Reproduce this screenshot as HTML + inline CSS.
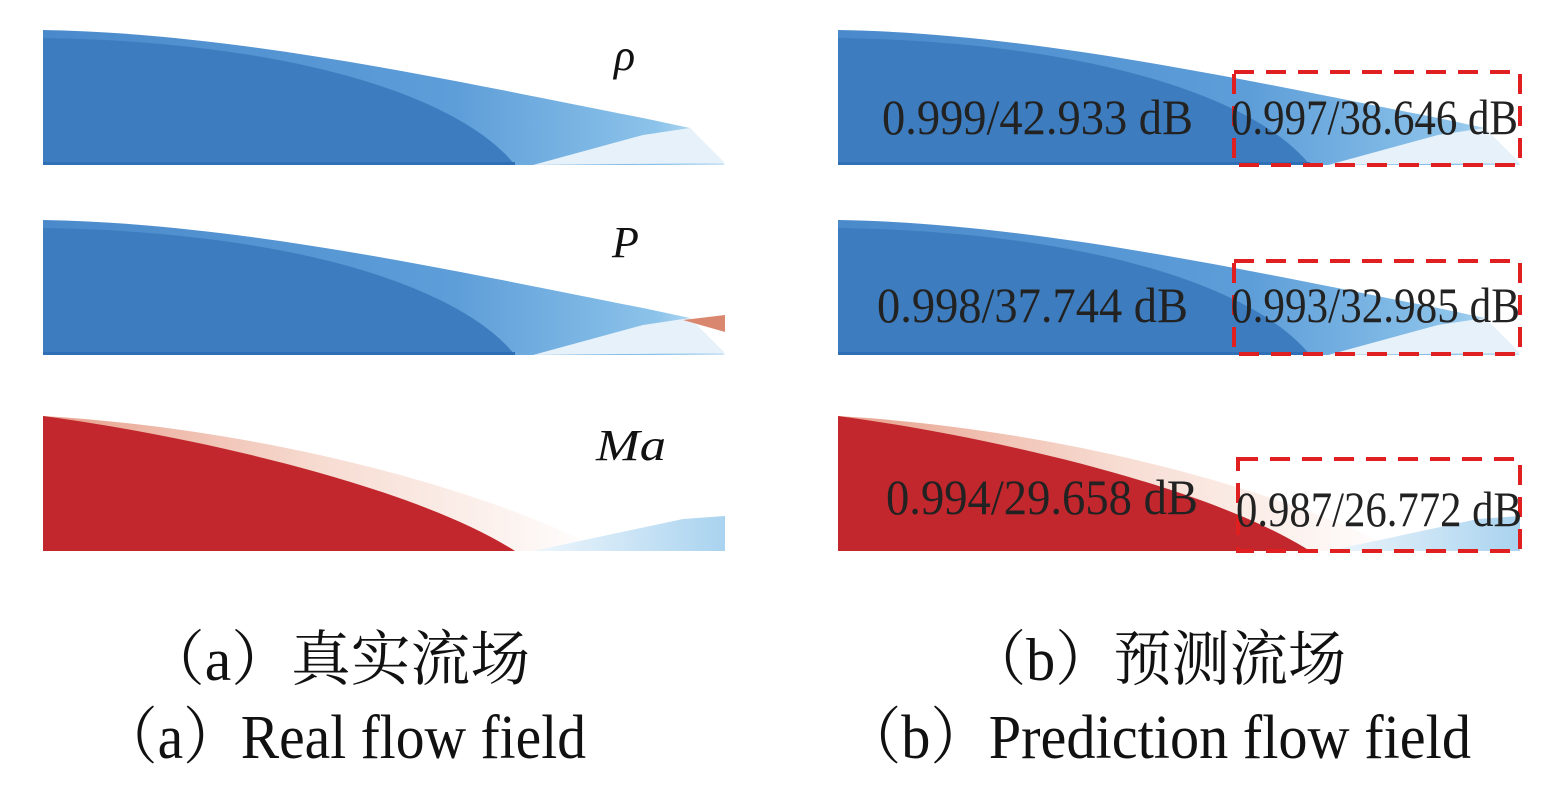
<!DOCTYPE html>
<html><head><meta charset="utf-8"><style>
html,body{margin:0;padding:0;background:#fff;}
svg{display:block;}
</style></head><body>
<svg width="1559" height="807" viewBox="0 0 1559 807" xmlns="http://www.w3.org/2000/svg">
<defs>
<linearGradient id="bo" x1="0" x2="1" y1="0" y2="0">
<stop offset="0" stop-color="#4a8acb"/><stop offset="0.6" stop-color="#5d9dd8"/><stop offset="0.9" stop-color="#8cc3ea"/><stop offset="1" stop-color="#cfe6f6"/>
</linearGradient>
<linearGradient id="rp" x1="0" x2="1" y1="0" y2="0">
<stop offset="0" stop-color="#e8a08c"/><stop offset="0.5" stop-color="#f7dcd2"/><stop offset="1" stop-color="#ffffff"/>
</linearGradient>
<linearGradient id="lb" x1="0" x2="1" y1="0" y2="0">
<stop offset="0" stop-color="#eef6fc"/><stop offset="1" stop-color="#a9d3ef"/>
</linearGradient>
<g id="blue">
<path d="M0,0 C200,3 430,55 600,88 L647,98 L682,135 L0,135 Z" fill="url(#bo)"/>
<path d="M490,135 L600,105 L647,98 L682,133 Z" fill="#e6f1fa"/>
<path d="M0,8 C260,12 420,70 472,135 L0,135 Z" fill="#3d7dbf"/>
<rect x="0" y="132" width="472" height="3" fill="#2e6fb5"/>
</g>
<g id="red">
<path d="M0,0 C250,15 470,85 560,135 L0,135 Z" fill="url(#rp)"/>
<path d="M0,0 C150,20 370,70 472,135 L0,135 Z" fill="#c1272d"/>
<path d="M490,135 L640,103 L682,100 L682,135 Z" fill="url(#lb)"/>
</g>
</defs>
<g transform="translate(43,30)"><use href="#blue"/></g>
<g transform="translate(43,220)"><use href="#blue"/><path d="M640,100 L682,95 L682,112 Z" fill="#d9876f"/></g>
<g transform="translate(43,416)"><use href="#red"/></g>
<g transform="translate(838,30)"><use href="#blue"/></g>
<g transform="translate(838,220)"><use href="#blue"/></g>
<g transform="translate(838,416)"><use href="#red"/></g>
<g font-family="'Liberation Serif',serif" font-style="italic" fill="#111">
<text x="614" y="70" font-size="44">ρ</text>
<text x="612" y="257" font-size="44">P</text>
<text x="596" y="460" font-size="44" textLength="70" lengthAdjust="spacingAndGlyphs">Ma</text>
</g>
<g fill="none" stroke="#e02020" stroke-width="4" stroke-dasharray="20,12">
<rect x="1234" y="72" width="286" height="93"/>
<rect x="1234" y="261" width="286" height="93"/>
<rect x="1238" y="459" width="282" height="92"/>
</g>
<g font-family="'Liberation Serif',serif" font-size="50" fill="#222">
<text x="882" y="134" textLength="311" lengthAdjust="spacingAndGlyphs">0.999/42.933 dB</text>
<text x="1231" y="134" textLength="287" lengthAdjust="spacingAndGlyphs">0.997/38.646 dB</text>
<text x="877" y="322" textLength="311" lengthAdjust="spacingAndGlyphs">0.998/37.744 dB</text>
<text x="1231" y="322" textLength="289" lengthAdjust="spacingAndGlyphs">0.993/32.985 dB</text>
<text x="886" y="514" textLength="312" lengthAdjust="spacingAndGlyphs">0.994/29.658 dB</text>
<text x="1236" y="526" textLength="286" lengthAdjust="spacingAndGlyphs">0.987/26.772 dB</text>
</g>
<g font-family="'Liberation Serif','Noto Serif CJK SC',serif" fill="#111">
<text x="145" y="680" font-size="60" textLength="385" lengthAdjust="spacingAndGlyphs">（a）真实流场</text>
<text x="968" y="680" font-size="60" textLength="378" lengthAdjust="spacingAndGlyphs">（b）预测流场</text>
<text x="100" y="758" font-size="62" textLength="486" lengthAdjust="spacingAndGlyphs">（a）Real flow field</text>
<text x="843" y="758" font-size="62" textLength="628" lengthAdjust="spacingAndGlyphs">（b）Prediction flow field</text>
</g>
</svg>
</body></html>
